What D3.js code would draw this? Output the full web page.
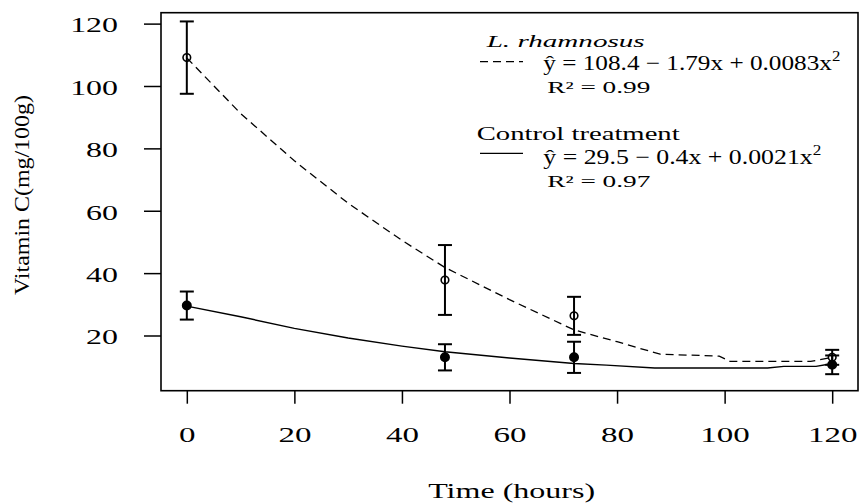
<!DOCTYPE html>
<html>
<head>
<meta charset="utf-8">
<script src="https://cdn.jsdelivr.net/npm/d3@7"></script>
<style>
  body { margin: 0; background: #fff; }
  svg { display: block; font-family: "Liberation Serif", "Times New Roman", serif; }
</style>
</head>
<body>
<svg id="chart" width="863" height="504" viewBox="0 0 863 504"></svg>
<script>
// measured points (mean +/- error) at each sampling time
const hours = [0, 48, 72, 120];
const rhamMean = [109.1, 37.8, 26.3, 13.0];
const rhamErr = [11.6, 11.2, 6.1, 2.4];
const ctrlMean = [29.6, 13.0, 13.0, 10.6];
const ctrlErr = [4.5, 4.2, 5.0, 3.0];

// fitted curves
const rhamFitHours = [0, 10, 20, 30, 40, 48, 60, 72, 80, 88, 99, 101, 116, 120];
const rhamFitVals = [109.0, 91.2, 76.0, 62.4, 50.5, 41.8, 31.5, 21.8, 18.0, 14.0, 13.4, 11.7, 11.7, 13.0];
const ctrlFitHours = [0, 10, 20, 30, 40, 48, 60, 72, 78, 87, 108, 111, 117, 119, 120];
const ctrlFitVals = [29.4, 26.0, 22.3, 19.2, 16.6, 14.8, 12.8, 11.0, 10.5, 9.6, 9.6, 10.1, 10.1, 10.7, 10.7];

const xTicks = [0, 20, 40, 60, 80, 100, 120];
const yTicks = [20, 40, 60, 80, 100, 120];

const seriesNames = ["L. rhamnosus", "Control treatment"];
const equations = [
  ["\u0177 = 108.4 \u2212 1.79x + 0.0083x", "2"],
  ["\u0177 = 29.5 \u2212 0.4x + 0.0021x", "2"],
];
const rSquared = ["R\u00b2 = 0.99", "R\u00b2 = 0.97"];
const xTitle = "Time (hours)";
const yTitle = "Vitamin C(mg/100g)";

const svg = d3.select("#chart");

const x = d3.scaleLinear().domain([-4.8, 124.8]).range([161, 858]);
const y = d3.scaleLinear().domain([2.3, 123.5]).range([390.7, 12.7]);

// the glyphs in the original are drawn wide, stretch them a bit
function widen(sel, k) {
  sel.each(function () {
    const w = this.getComputedTextLength();
    d3.select(this).attr("textLength", w * k).attr("lengthAdjust", "spacingAndGlyphs");
  });
}

function fitWidth(sel, w) {
  sel.attr("textLength", w).attr("lengthAdjust", "spacingAndGlyphs");
}

// axes
const xAxisG = svg.append("g")
  .attr("transform", `translate(0 ${y.range()[0]})`)
  .call(d3.axisBottom(x).tickValues(xTicks).tickSize(13).tickPadding(22.5));
const yAxisG = svg.append("g")
  .attr("transform", `translate(${x.range()[0]} 0)`)
  .call(d3.axisLeft(y).tickValues(yTicks).tickSize(17).tickPadding(26));

[xAxisG, yAxisG].forEach((g) => {
  g.select(".domain").remove();
  g.selectAll(".tick line").attr("stroke", "#000").attr("stroke-width", 1.5);
  g.selectAll(".tick text")
    .attr("fill", "#000")
    .style("font-family", '"Liberation Serif", serif')
    .style("font-size", "22px");
});
yAxisG.selectAll(".tick text").attr("dy", "0.38em");
widen(xAxisG.selectAll(".tick text"), 1.5);
widen(yAxisG.selectAll(".tick text"), 1.45);

// plot frame
svg.append("rect")
  .attr("x", x.range()[0])
  .attr("y", y.range()[1])
  .attr("width", x.range()[1] - x.range()[0])
  .attr("height", y.range()[0] - y.range()[1])
  .attr("fill", "none")
  .attr("stroke", "#000")
  .attr("stroke-width", 1.6);

// fitted curves
const line = d3.line().x((d) => x(d[0])).y((d) => y(d[1]));
svg.append("path")
  .datum(d3.zip(rhamFitHours, rhamFitVals))
  .attr("d", line)
  .attr("fill", "none")
  .attr("stroke", "#000")
  .attr("stroke-width", 1.3)
  .attr("stroke-dasharray", "8,5");
svg.append("path")
  .datum(d3.zip(ctrlFitHours, ctrlFitVals))
  .attr("d", line)
  .attr("fill", "none")
  .attr("stroke", "#000")
  .attr("stroke-width", 1.4);

// error bars + points
const series = [
  { mean: rhamMean, err: rhamErr, filled: false },
  { mean: ctrlMean, err: ctrlErr, filled: true },
];
const capHalf = 7;

series.forEach((s) => {
  const pts = hours.map((h, i) => ({ h: h, m: s.mean[i], e: s.err[i] }));
  const g = svg.append("g");
  const bars = g.selectAll("g.bar").data(pts).enter().append("g").attr("class", "bar")
    .attr("stroke", "#000").attr("stroke-width", 2);
  bars.append("line")
    .attr("x1", (d) => x(d.h)).attr("x2", (d) => x(d.h))
    .attr("y1", (d) => y(d.m - d.e)).attr("y2", (d) => y(d.m + d.e));
  bars.append("line")
    .attr("x1", (d) => x(d.h) - capHalf).attr("x2", (d) => x(d.h) + capHalf)
    .attr("y1", (d) => y(d.m + d.e)).attr("y2", (d) => y(d.m + d.e));
  bars.append("line")
    .attr("x1", (d) => x(d.h) - capHalf).attr("x2", (d) => x(d.h) + capHalf)
    .attr("y1", (d) => y(d.m - d.e)).attr("y2", (d) => y(d.m - d.e));
  g.selectAll("circle").data(pts).enter().append("circle")
    .attr("cx", (d) => x(d.h))
    .attr("cy", (d) => y(d.m))
    .attr("r", s.filled ? 4.2 : 3.8)
    .attr("fill", s.filled ? "#000" : "none")
    .attr("stroke", "#000")
    .attr("stroke-width", 1.6);
});

// legend
const legend = svg.append("g").attr("fill", "#000");
const legendRows = [
  { top: 47.3, dash: "8,5", lineY: 61.7, eqY: 70, rY: 92.7, nameW: 158, eqW: 297, nameSize: 17, italic: true },
  { top: 140, dash: null, lineY: 153.3, eqY: 164, rY: 186.7, nameW: 203, eqW: 278, nameSize: 19, italic: false },
];

legendRows.forEach((r, i) => {
  legend.append("text")
    .attr("x", i === 0 ? 486.7 : 476.7)
    .attr("y", r.top)
    .style("font-size", r.nameSize + "px")
    .style("font-style", r.italic ? "italic" : "normal")
    .text(seriesNames[i])
    .call(fitWidth, r.nameW);

  legend.append("line")
    .attr("x1", 480).attr("x2", 523)
    .attr("y1", r.lineY).attr("y2", r.lineY)
    .attr("stroke", "#000")
    .attr("stroke-width", 1.3)
    .attr("stroke-dasharray", r.dash);

  const eq = legend.append("text")
    .attr("x", 543.3)
    .attr("y", r.eqY)
    .style("font-size", "21px");
  eq.append("tspan").text(equations[i][0]);
  eq.append("tspan").attr("dy", -9).style("font-size", "14px").text(equations[i][1]);
  eq.call(fitWidth, r.eqW);

  legend.append("text")
    .attr("x", 547.3)
    .attr("y", r.rY)
    .style("font-size", "16px")
    .text(rSquared[i])
    .call(fitWidth, 103);
});

// axis titles
svg.append("text")
  .attr("x", 511.7)
  .attr("y", 498.3)
  .attr("text-anchor", "middle")
  .style("font-size", "22px")
  .text(xTitle)
  .call(fitWidth, 167);

svg.append("text")
  .attr("transform", "translate(28.5 195) rotate(-90)")
  .attr("text-anchor", "middle")
  .style("font-size", "22px")
  .text(yTitle)
  .call(fitWidth, 200);
</script>
</body>
</html>
